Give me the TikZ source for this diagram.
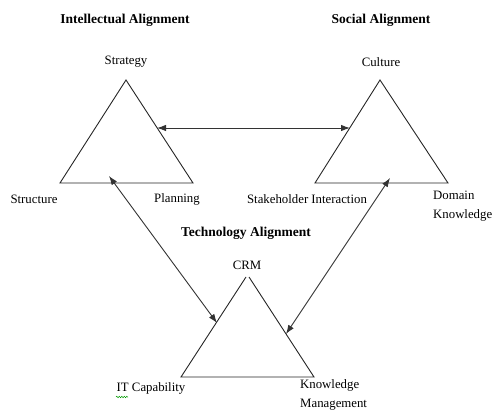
\documentclass[tikz,border=0pt]{standalone}
\usepackage{fontspec}
\setmainfont{Liberation Serif}
\usetikzlibrary{arrows.meta,decorations.pathmorphing}
\begin{document}
\begin{tikzpicture}[x=1pt,y=-1pt,
  tri/.style={draw=black!85,line width=0.9pt,line join=miter},
  lab/.style={inner sep=0pt,font=\fontsize{12.8}{19}\selectfont},
  head/.style={inner sep=0pt,font=\fontsize{13.5}{16}\selectfont\bfseries},
  link/.style={draw=black!80,line width=0.9pt,{Latex[length=9pt,width=6.5pt]}-{Latex[length=9pt,width=6.5pt]}}]
\useasboundingbox (0,0) rectangle (497,411);
% triangles
\coordinate (LA) at (126,80); \coordinate (LB) at (60,183); \coordinate (LC) at (193,183);
\coordinate (RA) at (380,80); \coordinate (RB) at (315,183); \coordinate (RC) at (448,183);
\coordinate (BA1) at (246,277); \coordinate (BA2) at (249,277);
\coordinate (BB) at (181,377); \coordinate (BC) at (314,377);
\draw[tri] (LA) -- (LB) -- (LC) -- cycle;
\draw[tri] (RA) -- (RB) -- (RC) -- cycle;
\draw[tri] (BA1) -- (BB) -- (BC) -- (BA2);
% arrow ends
\coordinate (h1) at (157,128); \coordinate (h2) at (350,128);
\coordinate (l1) at (109,176); \coordinate (l2) at (217,323);
\coordinate (r1) at (390,178); \coordinate (r2) at (286,334);
\draw[link] (h1) -- (h2);
\draw[link] (l1) -- (l2);
\draw[link] (r1) -- (r2);
% headings
\node[head] (hi) at (125,20) {Intellectual Alignment};
\node[head] (hs) at (381,20) {Social Alignment};
\node[head] (ht) at (246,233) {Technology Alignment};
% labels
\node[lab] (strat) at (126,62) {Strategy};
\node[lab] (cult) at (381,62) {Culture};
\node[lab] (struc) at (34,199) {Structure};
\node[lab] (plan) at (177,199) {Planning};
\node[lab] (stake) at (307,199) {Stakeholder Interaction};
\node[lab,anchor=west,align=left] (dom) at (433,206) {Domain\\Knowledge};
\node[lab] (crm) at (247,265) {CRM};
\node[lab] (itc) at (151,388) {IT Capability};
\node[lab,anchor=west,align=left] (km) at (300,395) {Knowledge\\Management};
\draw[green!60!black,line width=0.5pt,decorate,decoration={snake,amplitude=0.7pt,segment length=2.5pt}] (116,397) -- (128,397);
\end{tikzpicture}
\end{document}
